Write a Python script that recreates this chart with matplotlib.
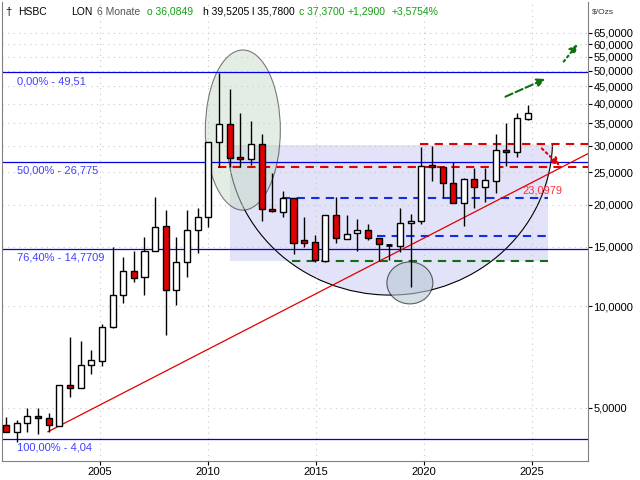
import matplotlib
matplotlib.use("Agg")
import matplotlib.pyplot as plt
from matplotlib.patches import Rectangle, Ellipse
from matplotlib.ticker import FixedLocator, FuncFormatter, NullLocator

opens  = [4.45,4.22,4.51,4.73,4.67,4.42,5.85,5.73,6.71,6.87,8.70,10.8,12.75,12.2,14.6,17.3,11.2,13.5,16.8,18.45,
          30.8,34.8,27.8,27.4,30.4,19.5,19.1,20.9,15.7,15.5,13.65,18.7,15.8,16.5,16.8,16.0,15.3,15.1,17.7,17.9,
          26.3,25.9,23.3,20.2,23.9,22.6,23.6,29.1,28.7,36.0849]
highs  = [4.70,4.58,4.97,4.97,4.83,5.85,8.12,7.90,7.43,8.88,15.0,14.0,14.6,16.1,21.1,19.3,16.1,19.3,19.6,30.8,
          49.3,44.2,37.5,35.5,32.5,24.9,22.0,21.0,18.45,16.3,18.7,21.1,18.6,18.1,17.6,16.0,15.3,19.6,18.8,29.8,
          29.9,25.9,26.9,24.1,25.8,25.8,32.5,35.0,37.5,39.5205]
lows   = [4.22,3.94,4.22,4.16,4.24,4.42,5.39,5.73,6.31,6.64,8.64,10.25,11.8,10.8,14.6,8.23,10.1,12.2,14.4,17.2,
          25.9,25.9,25.9,26.3,17.9,19.1,18.45,14.3,15.0,13.5,13.5,15.4,15.8,14.6,15.7,13.65,13.75,14.5,11.4,17.6,
          23.6,21.0,20.2,17.3,19.6,20.4,21.7,26.1,27.8,35.78]
closes = [4.22,4.51,4.73,4.67,4.45,5.85,5.73,6.71,6.94,8.70,10.8,12.75,12.15,14.6,17.2,11.2,13.5,16.8,18.45,30.8,
          34.8,27.6,27.4,30.4,19.5,19.2,20.9,15.4,15.4,13.75,18.6,15.9,16.4,16.8,16.0,15.3,15.2,17.7,17.9,26.1,
          25.9,23.3,20.2,23.9,22.6,23.7,29.1,28.7,36.3,37.37]
first_year = 2000.65
step = 0.493

fib_levels = [49.51, 26.775, 14.7709, 4.04]
fib_labels = ["0,00% - 49,51", "50,00% - 26,775", "76,40% - 14,7709", "100,00% - 4,04"]
yticks = [5, 10, 15, 20, 25, 30, 35, 40, 45, 50, 55, 60, 65]
xticks = [2005, 2010, 2015, 2020, 2025]

plt.rcParams['font.family'] = ['Liberation Sans', 'DejaVu Sans']
fig = plt.figure(figsize=(6.4, 4.8), dpi=100)
ax = fig.add_axes([2/640, 19/480, 586/640, 459/480])
ax.set_yscale("log")
ax.set_xlim(2000.46, 2027.6)
ax.set_ylim(3.47, 80.1)

def px2year(x):
    return 2000.37 + x / 21.6

# backgrounds
ax.add_patch(Rectangle((px2year(230), 16.2), px2year(548) - px2year(230), 30.2 - 16.2,
                       facecolor="#e2e2f8", edgecolor="none", zorder=0))
clip = Rectangle((0, 0), 1, (461 - 145) / 459, transform=ax.transAxes, visible=False)
ax.add_patch(clip)
big = Ellipse((0.662, 0.699), 0.555, 0.675, transform=ax.transAxes,
              facecolor="#e2e2f8", edgecolor="black", lw=0.8, zorder=0.5)
ax.add_patch(big)
big.set_clip_path(clip)
ax.add_patch(Rectangle((px2year(230), 13.6), px2year(548) - px2year(230), 16.2 - 13.6,
                       facecolor="#e2e2f8", edgecolor="none", zorder=0))
ax.add_patch(Ellipse((0.411, 0.721), 0.128, 0.349, transform=ax.transAxes,
                     facecolor="#c8dcc8", alpha=0.5, edgecolor="black", lw=0.8, zorder=1))
ax.add_patch(Ellipse((0.696, 0.388), 0.0785, 0.0915, transform=ax.transAxes,
                     facecolor="#b8c8d4", alpha=0.6, edgecolor="black", lw=0.8, zorder=1))

ax.grid(True, color="#c8c8c8", linestyle=(0, (1, 4)), lw=0.8)
ax.set_axisbelow(True)

for lvl, lab in zip(fib_levels, fib_labels):
    ax.axhline(lvl, color="#0000e0", lw=0.9, zorder=2)
    ax.text(2001.15, lvl * 0.975, lab, color="#4040ff", fontsize=8, va="top", ha="left", zorder=5)

# dashed levels
ax.hlines(30.4, px2year(420), 2027.6, colors="#e00000", linestyles=(0, (4, 3)), lw=1.5, zorder=2)
ax.hlines(25.9, px2year(218), 2027.6, colors="#e00000", linestyles=(0, (4, 3)), lw=1.5, zorder=2)
ax.hlines(21.0, px2year(282), px2year(548), colors="#1030e0", linestyles=(0, (4, 3)), lw=1.5, zorder=2)
ax.hlines(16.2, px2year(377), px2year(548), colors="#1030e0", linestyles=(0, (4, 3)), lw=1.5, zorder=2)
ax.hlines(13.6, px2year(292), px2year(548), colors="#107010", linestyles=(0, (4, 3)), lw=1.5, zorder=2)

# trend line
ax.plot([2002.59, 2027.6], [4.24, 28.4], color="#e00000", lw=0.9, zorder=3)
ax.text(2025.5, 22.0, "23,0979", color="#ff3040", fontsize=8, ha="center", va="center", zorder=5)

# candles
w = 0.28
for i, (o, h, l, c) in enumerate(zip(opens, highs, lows, closes)):
    x = first_year + step * i
    ax.vlines(x, l, h, color="black", lw=1, zorder=3)
    lo, hi = min(o, c), max(o, c)
    if hi / lo < 1.01:
        ax.hlines((o + c) / 2, x - w / 2, x + w / 2, color="black", lw=2, zorder=4)
        continue
    fc = "white" if c > o else "#e00000"
    ax.add_patch(Rectangle((x - w / 2, lo), w, hi - lo, facecolor=fc, edgecolor="black", lw=1, zorder=4))

# arrows
ax.annotate("", xy=(2025.74, 47.7), xytext=(2023.66, 41.6),
            arrowprops=dict(arrowstyle="-|>", color="#107010", lw=1.5, linestyle="--", mutation_scale=12), zorder=5)
ax.annotate("", xy=(2027.2, 60.9), xytext=(2026.39, 52.5),
            arrowprops=dict(arrowstyle="-|>", color="#107010", lw=1.5, linestyle=":", mutation_scale=12), zorder=5)
ax.annotate("", xy=(2026.39, 25.8), xytext=(2025.37, 29.8),
            arrowprops=dict(arrowstyle="-|>", color="#e00000", lw=1.5, linestyle=":", mutation_scale=12), zorder=5)

ax.yaxis.tick_right()
ax.yaxis.set_major_locator(FixedLocator(yticks))
ax.yaxis.set_minor_locator(NullLocator())
ax.yaxis.set_major_formatter(FuncFormatter(lambda v, p: f"{v:.4f}".replace(".", ",")))
ax.set_xticks(xticks)
ax.tick_params(labelsize=8, length=3, pad=1)
for s in ["top"]:
    ax.spines[s].set_visible(False)
for s in ["left", "right", "bottom"]:
    ax.spines[s].set_color("#808080")
fig.text(592/640, 1 - 12/480, "$/Ozs", fontsize=6, va="center", color="#333333")

# header
hy = 1 - 12/480
items = [(18, "HSBC", "black"), (71, "LON", "black"), (97, "6 Monate", "#555555"),
         (147, "o 36,0849", "#10a010"), (203, "h 39,5205", "black"), (252, "l 35,7800", "black"),
         (299, "c 37,3700", "#10a010"), (348, "+1,2900", "#10a010"), (392, "+3,5754%", "#10a010")]
for x, t, c in items:
    fig.text(x/640, hy, t, fontsize=7.5, color=c, va="center")
fig.text(8/640, hy, "\u2020", fontsize=8, color="black", va="center", ha="center")

fig.savefig("out.png", dpi=100)
